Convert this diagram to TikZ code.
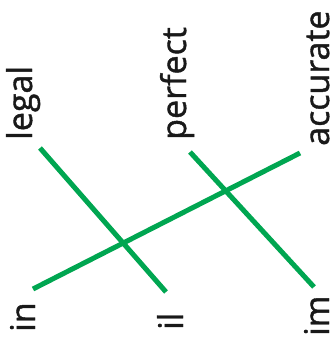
\documentclass[tikz,border=0pt]{standalone}
\usepackage{fontspec}
\setmainfont[FakeBold=1.2]{Open Sans}
\definecolor{linegreen}{HTML}{00A651}
\begin{document}
\begin{tikzpicture}[x=1pt,y=-1pt,
  word/.style={rotate=90,anchor=base west,inner sep=0pt,font=\fontsize{34}{34}\selectfont,text=black!90},
  link/.style={draw=linegreen,line width=5pt}]
\useasboundingbox (0,0) rectangle (331,351);
\node[word] (legal) at (32,140) {legal};
\node[word] (perfect) at (186,140) {perfect};
\node[word] (accurate) at (329,146) {accurate};
\node[word] (in) at (35,332) {in};
\node[word] (il) at (183,330) {il};
\node[word] (im) at (329,336) {im};
\coordinate (legalend) at (40,148);
\coordinate (perfectend) at (190,152);
\coordinate (accurateend) at (300,153);
\coordinate (inend) at (33,289);
\coordinate (ilend) at (166,292);
\coordinate (imend) at (314,287);
\draw[link] (legalend) -- (ilend);
\draw[link] (perfectend) -- (imend);
\draw[link] (inend) -- (accurateend);
\end{tikzpicture}
\end{document}
